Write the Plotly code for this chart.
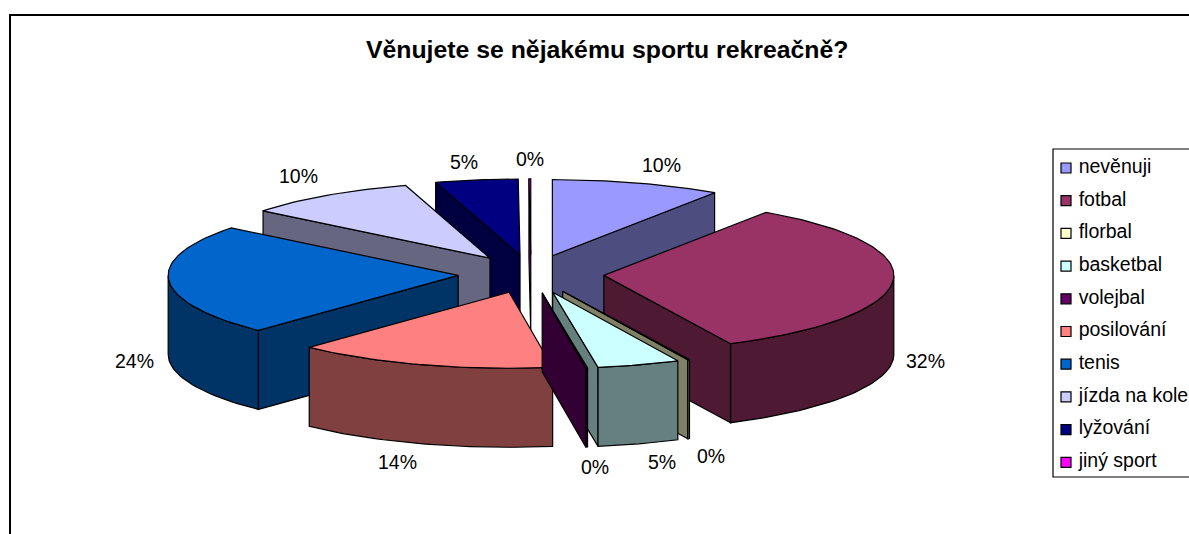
import math
import plotly.graph_objects as go

title = "Věnujete se nějakému sportu rekreačně?"
categories = ["nevěnuji", "fotbal", "florbal", "basketbal", "volejbal",
              "posilování", "tenis", "jízda na kole", "lyžování", "jiný sport"]
values = [9.45, 33.35, 0.1, 4.6, 0.1, 14.5, 23.6, 9.6, 4.6, 0.1]
percent_labels = ["10%", "32%", "0%", "5%", "0%", "14%", "24%", "10%", "5%", "0%"]
top_colors = ["#9999FF", "#993366", "#FFFFCC", "#CCFFFF", "#660066",
              "#FF8080", "#0066CC", "#CCCCFF", "#000080", "#FF00FF"]
wall_colors = ["#4D4D80", "#4D1933", "#808066", "#668080", "#330033",
               "#804040", "#003366", "#666680", "#000040", "#800080"]

# projection of the pie onto the page (pixels)
CX, CY = 531, 274
RX, RY = 290, 76
DEPTH = 79
EXPLODE = 73
LABEL_XY = [(661, 165), (925, 361), (711, 456), (662, 462), (595, 467),
            (397, 462), (134, 361), (298, 176), (464, 162), (530, 159)]
LEGEND_X, LEGEND_TOP, LEGEND_STEP = 1066, 168, 32.7
FONT = "Liberation Sans, Arial"


def ellipse(apex, deg):
    r = math.radians(deg)
    return apex[0] + RX * math.sin(r), apex[1] - RY * math.cos(r)


def arc(apex, a, b):
    n = max(2, int(abs(b - a) / 1.5) + 2)
    return [ellipse(apex, a + (b - a) * i / (n - 1)) for i in range(n)]


def poly(pts, fill):
    return go.Scatter(x=[p[0] for p in pts] + [pts[0][0]],
                      y=[p[1] for p in pts] + [pts[0][1]],
                      mode="lines", fill="toself", fillcolor=fill,
                      line=dict(color="black", width=1.2),
                      hoverinfo="skip", showlegend=False)


def down(pts):
    return [(x, y + DEPTH) for x, y in pts]


total = sum(values)
slices = []
cum = 0.0
for i, v in enumerate(values):
    a = cum / total * 360
    cum += v
    b = cum / total * 360
    mid = math.radians((a + b) / 2)
    scale = RY / RX
    apex = (CX + EXPLODE * math.sin(mid), CY - EXPLODE * scale * math.cos(mid))
    slices.append((math.cos(mid), i, a, b, apex))

traces = []
for _, i, a, b, apex in sorted(slices, key=lambda s: -s[0]):
    wall = wall_colors[i]
    # radial walls facing the viewer
    for edge, normal in ((a, a - 90), (b, b + 90)):
        if math.cos(math.radians(normal)) < 0:
            rim = ellipse(apex, edge)
            traces.append(poly([apex, rim] + down([rim, apex]), wall))
    # outer rim, front part only
    lo, hi = max(a, 90), min(b, 270)
    if lo < hi:
        rim = arc(apex, lo, hi)
        traces.append(poly(rim + down(rim)[::-1], wall))
    traces.append(poly([apex] + arc(apex, a, b), top_colors[i]))

# legend swatches and names
leg_y = [LEGEND_TOP + LEGEND_STEP * i for i in range(len(categories))]
traces.append(go.Scatter(
    x=[LEGEND_X] * len(categories), y=leg_y, mode="markers+text",
    text=[" " + c for c in categories], textposition="middle right",
    textfont=dict(family=FONT, size=19.5, color="black"),
    marker=dict(symbol="square", size=10, color=top_colors,
                line=dict(color="black", width=1.2)),
    hoverinfo="skip", showlegend=False, cliponaxis=False))

annotations = [dict(x=x, y=y, xref="x", yref="y", showarrow=False, text=t,
                    font=dict(family=FONT, size=19.5, color="black"))
               for (x, y), t in zip(LABEL_XY, percent_labels)]
annotations.append(dict(x=607, y=49.5, xref="x", yref="y", showarrow=False, text=f"<b>{title}</b>",
                        font=dict(family=FONT, size=24.8, color="black")))

shapes = [
    dict(type="rect", x0=10, y0=15, x1=1300, y1=700, xref="x", yref="y",
         line=dict(color="black", width=2), layer="below"),
    dict(type="rect", x0=1053, y0=149, x1=1300, y1=477, xref="x", yref="y",
         line=dict(color="black", width=1.2), layer="below"),
]

fig = go.Figure(traces)
fig.update_layout(
    width=1189, height=534, margin=dict(l=0, r=0, t=0, b=0),
    paper_bgcolor="white", plot_bgcolor="white", showlegend=False,
    xaxis=dict(range=[0, 1189], visible=False, fixedrange=True),
    yaxis=dict(range=[534, 0], visible=False, fixedrange=True),
    annotations=annotations, shapes=shapes,
)
fig.write_html("out.html", config=dict(displayModeBar=False),
               post_script="document.body.style.margin='0';document.body.style.overflow='hidden';")
